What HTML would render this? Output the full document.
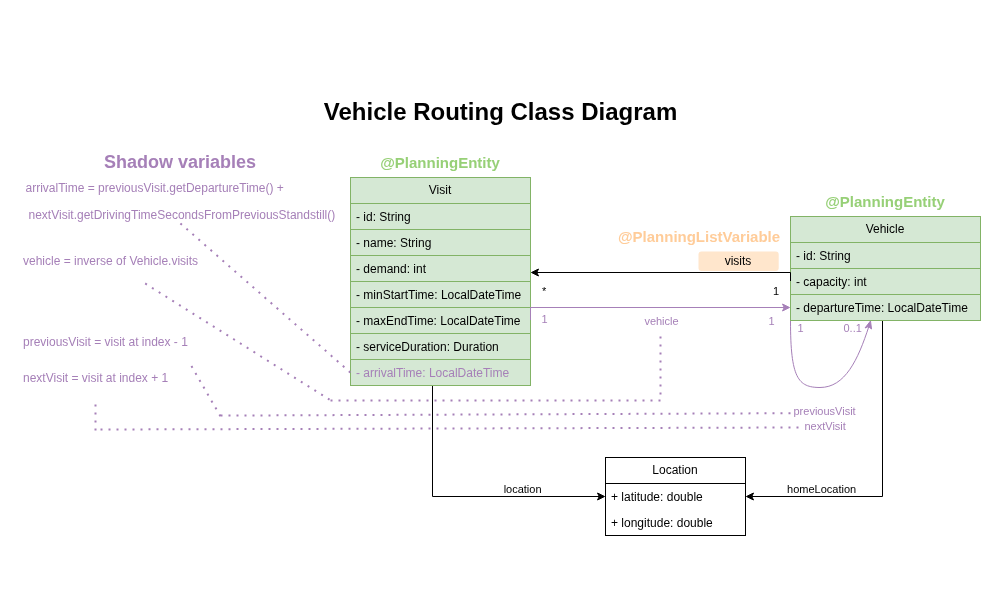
<!DOCTYPE html>
<html>
<head>
<meta charset="utf-8">
<style>
html,body{margin:0;padding:0;background:#fff;}
body{width:1000px;height:600px;position:relative;overflow:hidden;font-family:"Liberation Sans",sans-serif;}
svg{position:absolute;left:0;top:0;}
#txt{position:absolute;left:0;top:0;width:1000px;height:600px;will-change:transform;}
.t{position:absolute;white-space:nowrap;font-size:12px;line-height:14px;color:#000;}
.p{color:#a680b8;}
.c{transform:translateX(-50%);}
.s{font-size:11px;line-height:13px;}
</style>
</head>
<body>
<svg width="1000" height="600" viewBox="0 0 1000 600">
  <!-- Visit -->
  <g stroke="#82b366" stroke-width="1" fill="#d5e8d4">
    <rect x="350.5" y="177.5" width="180" height="208"/>
    <path d="M350.5 203.5H530.5M350.5 229.5H530.5M350.5 255.5H530.5M350.5 281.5H530.5M350.5 307.5H530.5M350.5 333.5H530.5M350.5 359.5H530.5" fill="none"/>
    <!-- Vehicle -->
    <rect x="790.5" y="216.5" width="190" height="104"/>
    <path d="M790.5 242.5H980.5M790.5 268.5H980.5M790.5 294.5H980.5" fill="none"/>
  </g>
  <!-- Location -->
  <g stroke="#000" stroke-width="1" fill="#fff">
    <rect x="605.5" y="457.5" width="140" height="78"/>
    <path d="M605.5 483.5H745.5" fill="none"/>
  </g>
  <!-- visits label box -->
  <rect x="698.5" y="251.5" width="80.2" height="19.5" rx="3" fill="#ffe6cc"/>
  <!-- black edges -->
  <g stroke="#000" stroke-width="1" fill="none">
    <path d="M790.5 281V272.5H537"/>
    <path d="M432.5 386V496.5H599"/>
    <path d="M882.5 321V496.5H752"/>
  </g>
  <g fill="#000" stroke="#000" stroke-width="1" stroke-linejoin="miter">
    <path d="M531.5 272.5L538.5 269L536.75 272.5L538.5 276Z"/>
    <path d="M604.5 496.5L597.5 500L599.25 496.5L597.5 493Z"/>
    <path d="M746.5 496.5L753.5 493L751.75 496.5L753.5 500Z"/>
  </g>
  <!-- purple edges -->
  <g stroke="#a680b8" stroke-width="1" fill="none">
    <path d="M530.5 320V307.5H784"/>
    <path d="M790.5 321C790.5 378 798 387.5 820 387.5C845 387.5 858 360 869 326"/>
  </g>
  <g fill="#a680b8" stroke="#a680b8" stroke-width="1">
    <path d="M789.5 307.5L782.5 311L784.25 307.5L782.5 304Z"/>
    <path d="M870.5 321L871.5 329L868.5 326.5L865 328Z"/>
  </g>
  <!-- dotted -->
  <g stroke="#a680b8" stroke-width="2" fill="none" stroke-dasharray="2 6" stroke-linecap="butt">
    <path d="M350.35 372.46L180.2 223.3"/>
    <path d="M660.5 336.5V400.5H330.5"/>
    <path d="M145.2 283.47L329.55 399.63"/>
    <path d="M191.46 366.03L220.4 416.26"/>
    <path d="M220.5 415.6L790.5 413.2"/>
    <path d="M95.5 404.4V430.4"/>
    <path d="M100.5 429.5L800 427.5"/>
  </g>
</svg>
<div id="txt">
<div class="t c" style="left:500.5px;top:98px;font-size:24px;line-height:28px;font-weight:bold;">Vehicle Routing Class Diagram</div>
<div class="t c p" style="left:180px;top:152px;font-size:18px;line-height:21px;font-weight:bold;">Shadow variables</div>
<div class="t c" style="left:440px;top:154px;font-size:15px;line-height:17px;font-weight:bold;color:#97d077;">@PlanningEntity</div>
<div class="t c" style="left:885px;top:193px;font-size:15px;line-height:17px;font-weight:bold;color:#97d077;">@PlanningEntity</div>
<div class="t c" style="left:699px;top:228px;font-size:15px;line-height:17px;font-weight:bold;color:#ffcc99;">@PlanningListVariable</div>

<div class="t p" style="left:25.5px;top:181px;">arrivalTime = previousVisit.getDepartureTime() +</div>
<div class="t p" style="left:28.5px;top:208px;">nextVisit.getDrivingTimeSecondsFromPreviousStandstill()</div>
<div class="t p" style="left:23px;top:254px;">vehicle = inverse of Vehicle.visits</div>
<div class="t p" style="left:23px;top:335px;">previousVisit = visit at index - 1</div>
<div class="t p" style="left:23px;top:371px;">nextVisit = visit at index + 1</div>

<div class="t c" style="left:440px;top:183px;">Visit</div>
<div class="t" style="left:356px;top:210px;">- id: String</div>
<div class="t" style="left:356px;top:236px;">- name: String</div>
<div class="t" style="left:356px;top:262px;">- demand: int</div>
<div class="t" style="left:356px;top:288px;">- minStartTime: LocalDateTime</div>
<div class="t" style="left:356px;top:314px;">- maxEndTime: LocalDateTime</div>
<div class="t" style="left:356px;top:340px;">- serviceDuration: Duration</div>
<div class="t p" style="left:356px;top:366px;">- arrivalTime: LocalDateTime</div>

<div class="t c" style="left:885px;top:222px;">Vehicle</div>
<div class="t" style="left:796px;top:249px;">- id: String</div>
<div class="t" style="left:796px;top:275px;">- capacity: int</div>
<div class="t" style="left:796px;top:301px;">- departureTime: LocalDateTime</div>

<div class="t c" style="left:675px;top:463px;">Location</div>
<div class="t" style="left:611px;top:490px;">+ latitude: double</div>
<div class="t" style="left:611px;top:516px;">+ longitude: double</div>

<div class="t c" style="left:738px;top:254px;">visits</div>
<div class="t s" style="left:542px;top:285px;">*</div>
<div class="t s" style="left:773px;top:285px;">1</div>
<div class="t s p" style="left:541.5px;top:313px;">1</div>
<div class="t s p c" style="left:661.5px;top:315px;">vehicle</div>
<div class="t s p" style="left:768.5px;top:315px;">1</div>
<div class="t s p" style="left:797.5px;top:322px;">1</div>
<div class="t s p" style="left:843.5px;top:322px;">0..1</div>
<div class="t s p" style="left:793.5px;top:405px;">previousVisit</div>
<div class="t s p" style="left:804.5px;top:420px;">nextVisit</div>
<div class="t s c" style="left:522.6px;top:483px;">location</div>
<div class="t s c" style="left:821.6px;top:483px;">homeLocation</div>
</div>
</body>
</html>
